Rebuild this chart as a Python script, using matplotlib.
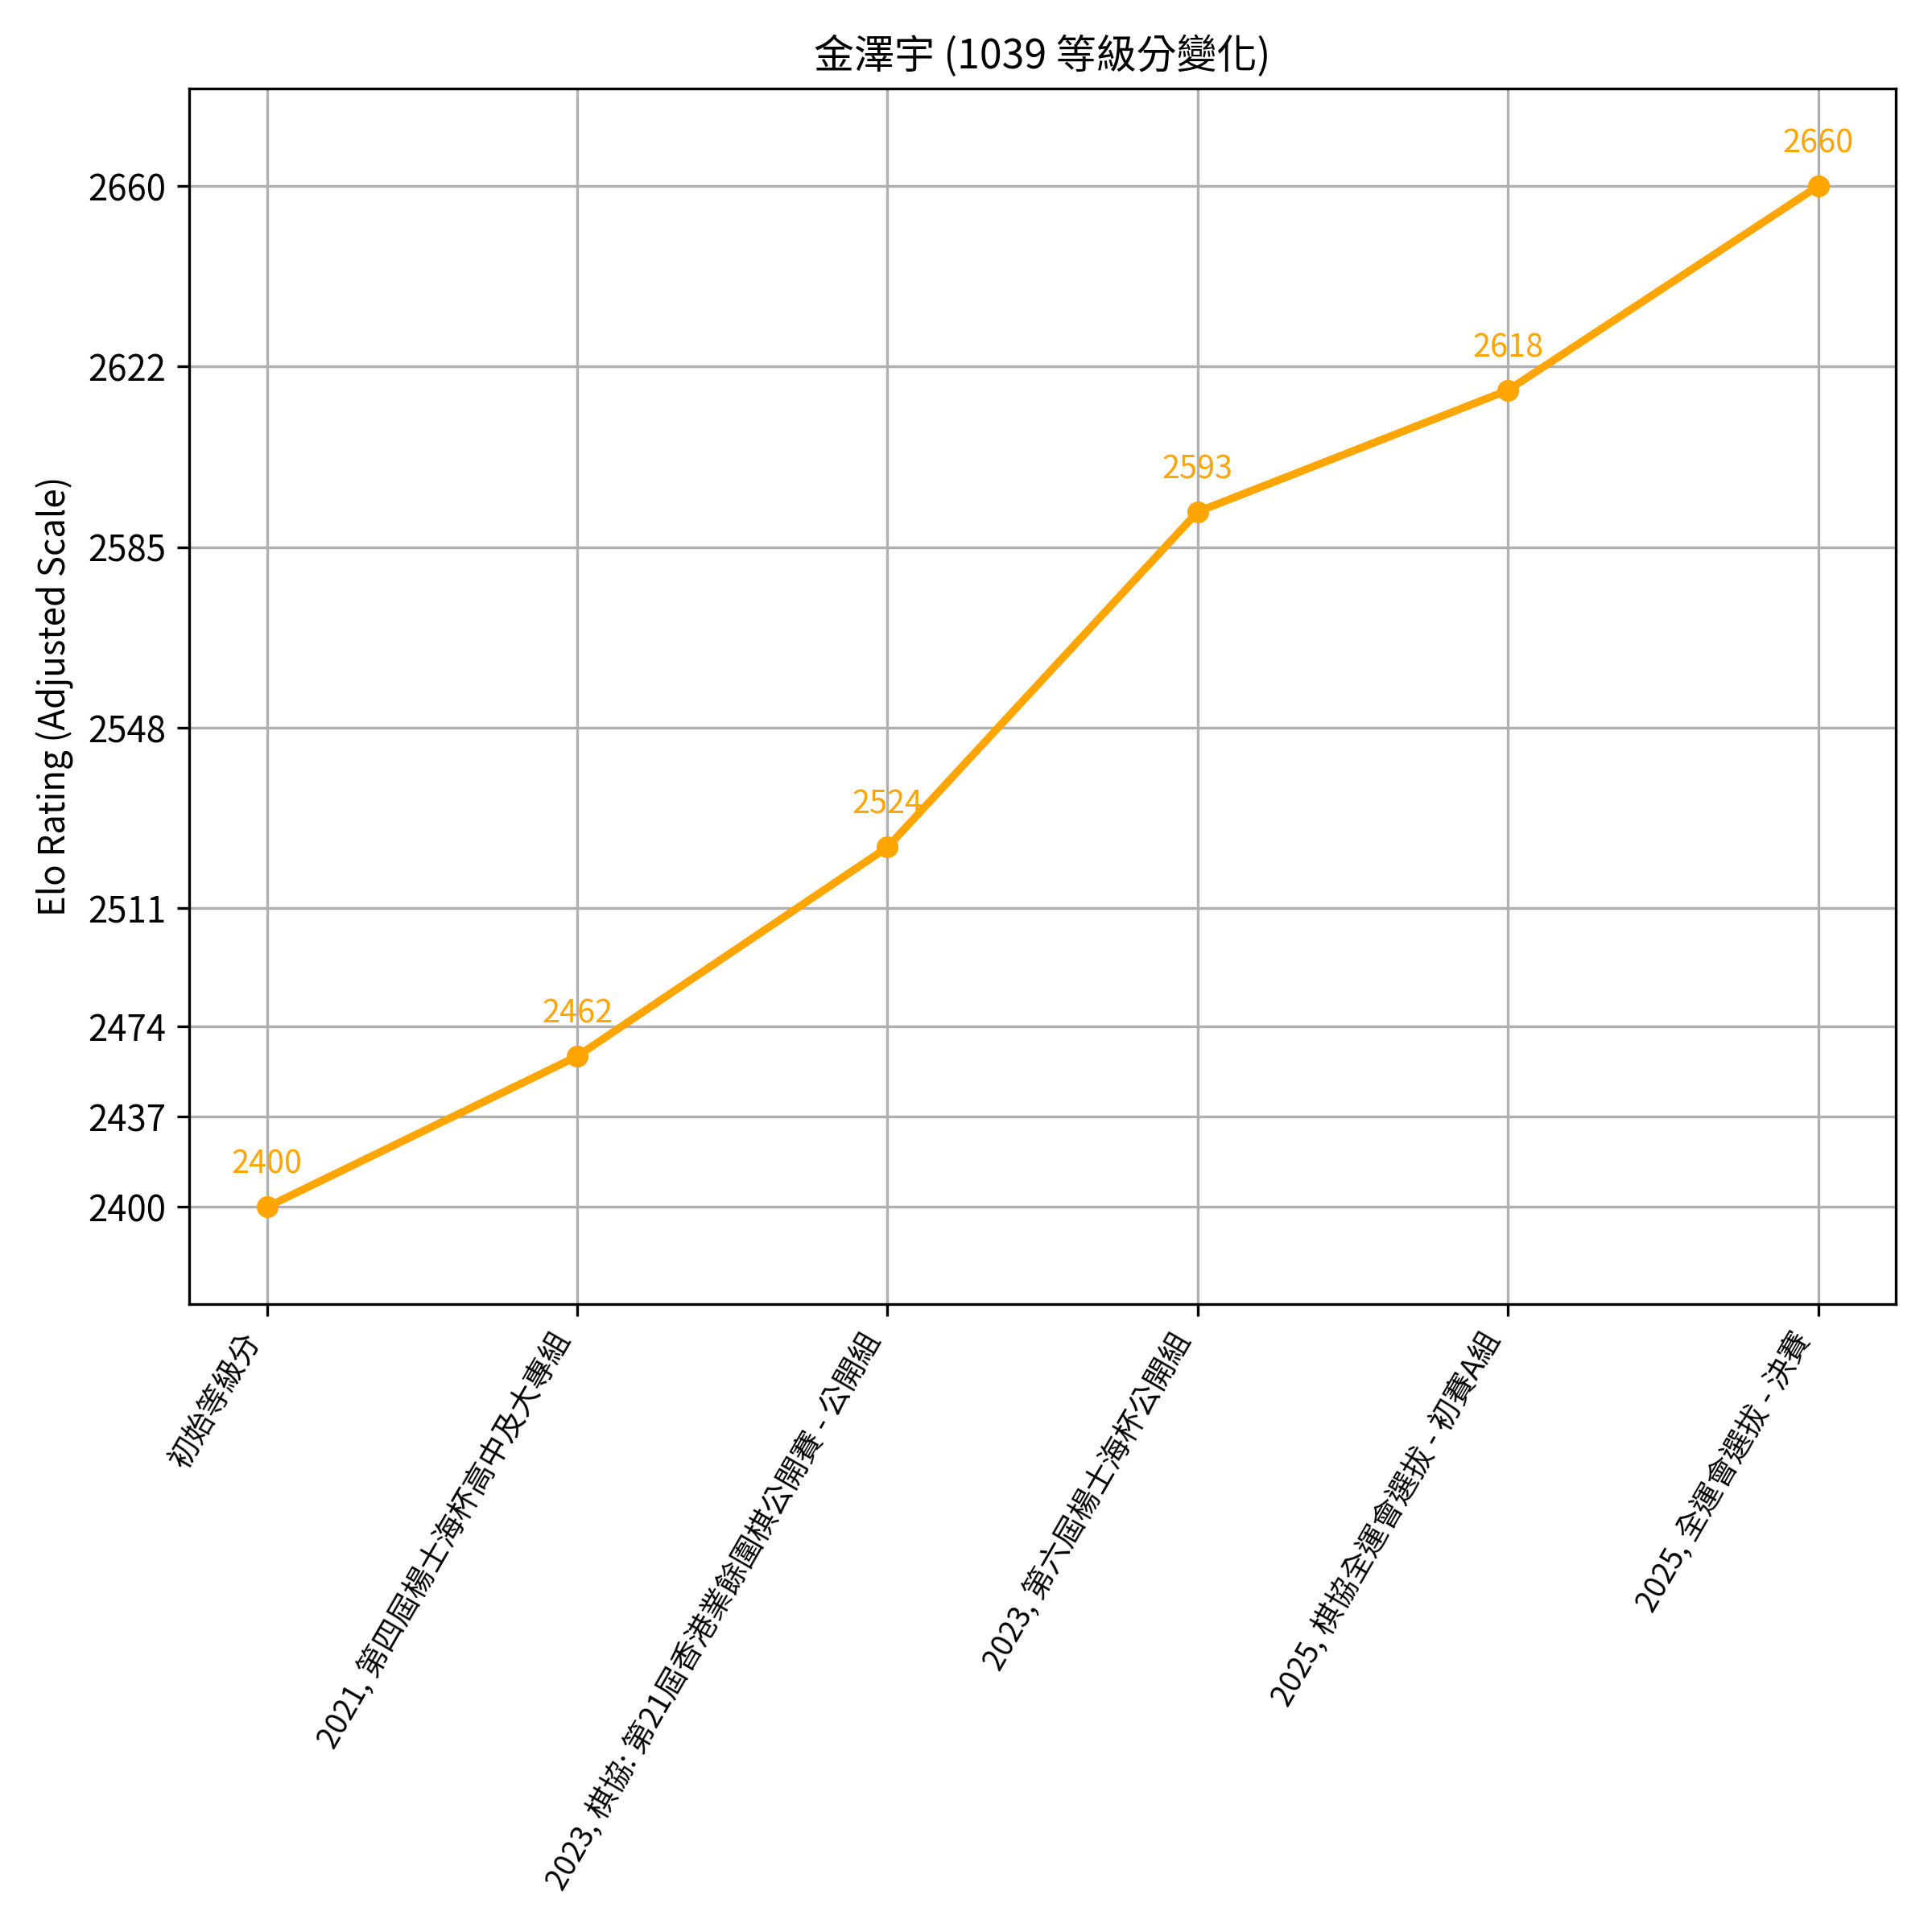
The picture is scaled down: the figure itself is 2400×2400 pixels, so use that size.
import numpy as np
import matplotlib
matplotlib.use("Agg")
import matplotlib.pyplot as plt

plt.rcParams['font.family'] = ['Noto Sans CJK TC', 'DejaVu Sans']

# --- data ---
events = [
    "初始等級分",
    "2021, 第四屆楊士海杯高中及大專組",
    "2023, 棋協: 第21屆香港業餘圍棋公開賽 - 公開組",
    "2023, 第六屆楊士海杯公開組",
    "2025, 棋協全運會選拔 - 初賽A組",
    "2025, 全運會選拔 - 決賽",
]
ratings = [2400, 2462, 2524, 2593, 2618, 2660]

player = "金澤宇"
player_id = 1039

# compress the low end of the axis (below 2500 at half scale)
SPLIT = 2500
FACTOR = 0.5


def fwd(y):
    y = np.asarray(y, dtype=float)
    return np.where(y < SPLIT, SPLIT - (SPLIT - y) * FACTOR, y)


def inv(y):
    y = np.asarray(y, dtype=float)
    return np.where(y < SPLIT, SPLIT - (SPLIT - y) / FACTOR, y)


fig, ax = plt.subplots(figsize=(8, 8), dpi=300)

x = np.arange(len(events))
ax.plot(x, ratings, marker="o", color="orange", linewidth=2.3, markersize=5.5)

for xi, r in zip(x, ratings):
    ax.annotate(str(r), (xi, r), textcoords="offset points", xytext=(0, 10),
                ha="center", color="orange", fontsize=9.5)

ax.set_yscale("function", functions=(fwd, inv))
ax.set_ylim(2360, 2680)
yticks = np.linspace(min(ratings), max(ratings), 8)
ax.set_yticks(yticks)
ax.set_yticklabels([str(int(t)) for t in yticks], fontsize=10.5)

ax.set_xticks(x)
ax.set_xticklabels(events, rotation=60, ha="right", fontsize=9)

ax.set_ylabel("Elo Rating (Adjusted Scale)", fontsize=10.5)
ax.set_title(f"{player} ({player_id} 等級分變化)", fontsize=12)
ax.grid(True)

plt.tight_layout()
plt.savefig("out.png", dpi=300)
